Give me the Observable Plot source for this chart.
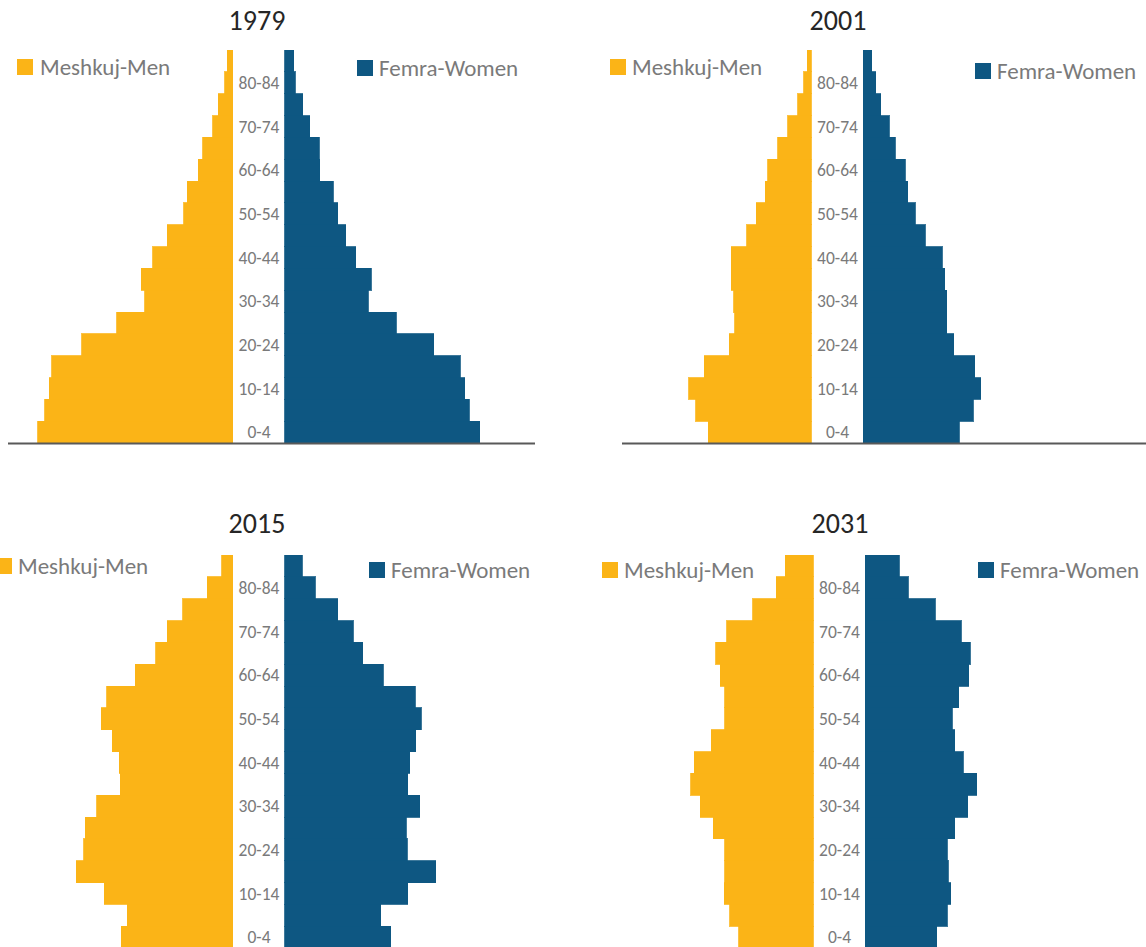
<!DOCTYPE html>
<html>
<head>
<meta charset="utf-8">
<script src="https://cdn.jsdelivr.net/npm/d3@7"></script>
<script src="https://cdn.jsdelivr.net/npm/@observablehq/plot@0.6"></script>
<style>
  html, body { margin: 0; padding: 0; background: #fff; overflow: hidden; }
  #wrap { position: relative; width: 1146px; height: 947px; overflow: hidden; font-family: Carlito, Lato, sans-serif; }
  .panel { position: absolute; width: 573px; height: 473px; }
  .panel svg { position: absolute; left: 0; top: 0; }
  .title { position: absolute; width: 120px; text-align: center; font-size: 28px; line-height: 34px; color: #262626; }
  .leg { position: absolute; font-size: 23px; line-height: 28px; color: #7a7a7a; white-space: nowrap; }
  .sq { position: absolute; width: 16px; height: 16px; }
</style>
</head>
<body>
<div id="wrap"></div>
<script>
// Age groups (bottom to top)
const ageGroups = ["0-4","5-9","10-14","15-19","20-24","25-29","30-34","35-39","40-44","45-49","50-54","55-59","60-64","65-69","70-74","75-79","80-84","85+"];
const years = ["1979", "2001", "2015", "2031"];
const menLabel = "Meshkuj-Men";
const womenLabel = "Femra-Women";

// Estimated bar lengths (relative units), youngest group first
const men1979   = [542,522,510,502,419,322,244,254,222,182,135,126,95,83,55,39,22,14];
const women1979 = [543,513,501,488,415,310,233,241,198,170,148,136,98,96,70,51,30,26];
const men2001   = [285,320,340,297,227,212,215,222,222,178,152,127,120,92,65,37,20,10];
const women2001 = [267,307,327,310,252,233,233,227,220,173,145,125,118,90,73,50,35,25];
const men2015   = [309,292,357,434,414,410,377,312,315,334,365,349,270,214,182,139,70,30];
const women2015 = [296,268,343,421,341,338,376,343,348,365,380,363,275,218,191,148,86,50];
const men2031   = [207,232,247,245,245,278,313,340,330,283,245,245,258,270,240,168,102,77];
const women2031 = [200,228,238,232,228,250,285,310,273,250,242,260,288,292,268,195,120,95];

const menColor = "#FBB417";
const womenColor = "#0E5782";

const series = [
  {year: years[0], men: men1979, women: women1979},
  {year: years[1], men: men2001, women: women2001},
  {year: years[2], men: men2015, women: women2015},
  {year: years[3], men: men2031, women: women2031}
];

// layout (pixels)
const layout = [
  {left: 0,   top: 0,   center: 258.5, f0: 8,   f1: 535,  title: [257, 32], menSq: [17, 59],   menTx: 40,  womSq: [357, 60],  womTx: 379},
  {left: 573, top: 0,   center: 837,   f0: 622, f1: 1146, title: [265, 32], menSq: [37, 59],   menTx: 59,  womSq: [402, 63],  womTx: 424},
  {left: 0,   top: 505, center: 258.5, f0: 8,   f1: 535,  title: [257, 30], menSq: [-4, 53],   menTx: 18,  womSq: [369, 57],  womTx: 391},
  {left: 573, top: 505, center: 839,   f0: 624, f1: 1146, title: [267, 30], menSq: [29, 57],   menTx: 51,  womSq: [405, 57],  womTx: 427}
];
const pxPerUnit = 1 / 2.78;
const halfGap = 26;

const wrap = document.getElementById("wrap");

series.forEach((s, k) => {
  const L = layout[k];
  const rows = ageGroups.map((age, i) => ({age, i, men: s.men[i], women: s.women[i]}));
  const domain = [-(L.center - L.f0) / pxPerUnit, (L.f1 - L.center) / pxPerUnit];

  const panel = document.createElement("div");
  panel.className = "panel";
  panel.style.left = L.left + "px";
  panel.style.top = L.top + "px";

  const chart = Plot.plot({
    width: 573,
    height: 473,
    marginLeft: L.f0 - L.left,
    marginRight: L.left + 573 - L.f1,
    marginTop: 50,
    marginBottom: 30,
    style: {background: "transparent", overflow: "visible"},
    x: {domain, axis: null},
    y: {domain: [0, ageGroups.length], axis: null},
    marks: [
      Plot.rect(rows, {x1: d => -d.men, x2: () => 0, y1: d => d.i, y2: d => d.i + 1,
        fill: menColor, stroke: menColor, strokeWidth: 0.8, shapeRendering: "crispEdges", dx: -halfGap}),
      Plot.rect(rows, {x1: () => 0, x2: d => d.women, y1: d => d.i, y2: d => d.i + 1,
        fill: womenColor, stroke: womenColor, strokeWidth: 0.8, shapeRendering: "crispEdges", dx: halfGap}),
      Plot.text(rows.filter(d => d.i % 2 === 0), {
        x: () => 0, y: d => d.i + 0.5, text: "age",
        fill: "#7a7a7a", fontSize: 17.5, fontFamily: "Carlito, Lato, sans-serif"
      }),
      Plot.ruleY([0], {stroke: "#595959", strokeWidth: 2})
    ]
  });
  panel.appendChild(chart);

  const t = document.createElement("div");
  t.className = "title";
  t.textContent = s.year;
  t.style.left = (L.title[0] - 60) + "px";
  t.style.top = (L.title[1] - 28) + "px";
  panel.appendChild(t);

  const addLeg = (sq, tx, color, label) => {
    const b = document.createElement("div");
    b.className = "sq";
    b.style.left = sq[0] + "px";
    b.style.top = sq[1] + "px";
    b.style.background = color;
    panel.appendChild(b);
    const l = document.createElement("div");
    l.className = "leg";
    l.textContent = label;
    l.style.left = tx + "px";
    l.style.top = (sq[1] - 6) + "px";
    panel.appendChild(l);
  };
  addLeg(L.menSq, L.menTx, menColor, menLabel);
  addLeg(L.womSq, L.womTx, womenColor, womenLabel);

  wrap.appendChild(panel);
});
</script>
</body>
</html>
